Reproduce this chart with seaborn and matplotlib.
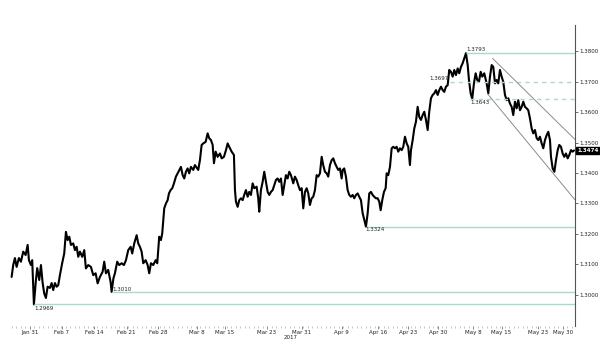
import numpy as np
import pandas as pd
import matplotlib
matplotlib.use('Agg')
import matplotlib.pyplot as plt
import seaborn as sns

# time axis in chart units (0 = Jan 31)
t = [-4.09, -3.73, -3.35, -2.97, -2.46, -2.01, -1.50, -0.96, -0.51, -0.22, 0.22, 0.51,
     0.89, 1.34, 1.63, 2.08, 2.46, 2.84, 3.19, 3.57, 3.95, 4.47, 4.85, 5.20,
     5.58, 5.96, 6.32, 6.70, 7.21, 7.66, 8.04, 8.42, 8.78, 9.16, 9.67, 10.05,
     10.43, 10.79, 11.17, 11.68, 12.13, 12.50, 13.02, 13.62, 14.14, 14.67, 15.12, 15.63,
     16.23, 16.59, 16.97, 17.48, 18.02, 18.24, 18.65, 18.98, 19.49, 19.94, 20.48, 20.99,
     21.44, 21.95, 22.49, 22.84, 23.29, 23.83, 24.18, 24.56, 24.94, 25.30, 25.84, 26.28,
     26.64, 27.02, 27.53, 28.07, 28.43, 28.65, 28.87, 29.25, 29.54, 29.77, 29.99, 30.37,
     30.75, 31.04, 31.42, 31.78, 32.16, 32.60, 32.98, 33.34, 33.72, 34.10, 34.46, 34.83,
     35.21, 35.57, 35.95, 36.47, 36.84,
     37.36, 37.58, 37.96, 38.34, 38.70, 39.23, 39.68, 40.03, 40.42, 40.80, 41.09,
     41.47, 41.91, 42.43, 42.81, 43.32, 43.77, 44.15, 44.50, 45.04, 45.55, 45.78, 46.00,
     46.38, 46.74, 47.12, 47.50, 47.85, 48.23, 48.61, 48.97, 49.35, 49.73, 50.09, 50.62,
     50.98, 51.20, 51.58, 51.96, 52.32, 52.70, 53.08, 53.44, 53.82, 54.20, 54.55, 54.93,
     55.31, 55.67, 56.05, 56.43, 56.79, 57.16, 57.54, 57.90, 58.28,
     58.80, 59.17, 59.55, 59.91, 60.29, 60.67, 61.03, 61.41, 61.79, 62.15, 62.52, 62.90,
     63.26, 63.64, 64.02, 64.38, 64.76, 65.14, 65.49, 65.87, 66.25, 66.61, 66.99, 67.37,
     67.73, 68.11, 68.49, 68.84, 69.22, 69.60, 69.83, 70.18, 70.56, 70.94, 71.30, 71.68,
     72.06, 72.42, 72.80, 73.18, 73.53, 73.91, 74.29, 74.65, 75.03, 75.41, 75.77, 76.15,
     76.52, 76.88, 77.26, 77.64, 78.00, 78.31, 78.67, 79.05, 79.43, 79.65, 80.01, 80.39,
     80.77, 81.13, 81.50, 81.88, 82.24, 82.62, 83.00, 83.36, 83.74, 84.12, 84.47, 84.85,
     85.08, 85.46, 85.82, 86.19, 86.57, 86.93, 87.31, 87.69, 88.05, 88.43, 88.81, 89.16,
     89.54, 89.92, 90.28, 90.66, 91.04, 91.40, 91.78, 92.16, 92.51, 92.89, 93.27, 93.63,
     94.01, 94.39, 94.75, 95.13, 95.51, 95.86, 96.24, 96.62, 96.98, 97.36, 97.74, 98.03,
     98.41, 98.76, 99.14, 99.52, 99.88, 100.26, 100.64, 101.00, 101.44, 101.98, 102.34, 102.72,
     103.10, 103.46, 103.84, 104.21, 104.57, 104.95, 105.33, 105.69, 106.07, 106.45, 106.81, 107.18,
     107.56, 107.92, 108.30, 108.68, 109.04, 109.42, 109.80, 110.16, 110.53, 110.91, 111.27, 111.65,
     112.03, 112.39, 112.77, 113.15, 113.51, 113.88, 114.26, 114.62, 115.00, 115.38, 115.74, 116.12,
     116.34, 116.72, 117.10, 117.46, 117.84, 118.19, 118.57, 118.95, 119.31, 119.69, 120.07, 120.43,
     120.81, 121.18, 121.48]

price = [1.3059, 1.3098, 1.3121, 1.3092, 1.3121, 1.3109, 1.3142, 1.3131, 1.3164, 1.3114, 1.3098, 1.3114,
         1.2969, 1.3049, 1.3088, 1.3049, 1.3098, 1.3039, 1.3005, 1.2990, 1.3027, 1.3023, 1.3039, 1.3016,
         1.3039, 1.3027, 1.3032, 1.3065, 1.3105, 1.3136, 1.3207, 1.3180, 1.3191, 1.3164, 1.3169, 1.3147,
         1.3158, 1.3125, 1.3142, 1.3125, 1.3147, 1.3087, 1.3098, 1.3092, 1.3065, 1.3071, 1.3038, 1.3059,
         1.3076, 1.3109, 1.3071, 1.3082, 1.3042, 1.3010, 1.3055, 1.3071, 1.3109, 1.3098, 1.3104, 1.3098,
         1.3114, 1.3147, 1.3158, 1.3136, 1.3169, 1.3196, 1.3169, 1.3158, 1.3142, 1.3104, 1.3114, 1.3098,
         1.3071, 1.3104, 1.3098, 1.3114, 1.3104, 1.3147, 1.3191, 1.3180, 1.3202, 1.3246, 1.3284, 1.3300,
         1.3311, 1.3333, 1.3344, 1.3350, 1.3366, 1.3388, 1.3399, 1.3410, 1.3420, 1.3393, 1.3382, 1.3404,
         1.3415, 1.3399, 1.3420, 1.3410, 1.3426,
         1.3415, 1.3410, 1.3442, 1.3492, 1.3497, 1.3502, 1.3530, 1.3514, 1.3508, 1.3492, 1.3432,
         1.3470, 1.3453, 1.3464, 1.3448, 1.3453, 1.3475, 1.3497, 1.3486, 1.3470, 1.3459, 1.3344, 1.3306,
         1.3289, 1.3311, 1.3317, 1.3311, 1.3328, 1.3344, 1.3322, 1.3338, 1.3328, 1.3366, 1.3350, 1.3355,
         1.3317, 1.3273, 1.3344, 1.3371, 1.3404, 1.3371, 1.3338, 1.3328, 1.3338, 1.3344, 1.3360, 1.3377,
         1.3382, 1.3371, 1.3382, 1.3328, 1.3360, 1.3393, 1.3382, 1.3404, 1.3393,
         1.3366, 1.3388, 1.3377, 1.3360, 1.3344, 1.3350, 1.3284, 1.3338, 1.3350, 1.3333, 1.3295, 1.3317,
         1.3322, 1.3344, 1.3393, 1.3388, 1.3399, 1.3453, 1.3426, 1.3404, 1.3399, 1.3388, 1.3426, 1.3442,
         1.3448, 1.3432, 1.3420, 1.3410, 1.3415, 1.3382, 1.3410, 1.3415, 1.3388, 1.3344, 1.3328, 1.3322,
         1.3328, 1.3317, 1.3328, 1.3333, 1.3322, 1.3311, 1.3268, 1.3246, 1.3224, 1.3268, 1.3333, 1.3338,
         1.3328, 1.3322, 1.3317, 1.3317, 1.3306, 1.3278, 1.3311, 1.3338, 1.3350, 1.3399, 1.3393, 1.3420,
         1.3481, 1.3486, 1.3481, 1.3486, 1.3470, 1.3481, 1.3475, 1.3486, 1.3519, 1.3497, 1.3486, 1.3426,
         1.3475, 1.3508, 1.3546, 1.3568, 1.3617, 1.3584, 1.3574, 1.3590, 1.3601, 1.3574, 1.3541, 1.3601,
         1.3645, 1.3656, 1.3661, 1.3672, 1.3656, 1.3672, 1.3683, 1.3672, 1.3666, 1.3683, 1.3688, 1.3738,
         1.3732, 1.3716, 1.3738, 1.3721, 1.3743, 1.3727, 1.3748, 1.3760, 1.3776, 1.3793, 1.3754, 1.3705,
         1.3661, 1.3643, 1.3694, 1.3727, 1.3705, 1.3699, 1.3732, 1.3716, 1.3727, 1.3694, 1.3661, 1.3716,
         1.3754, 1.3748, 1.3694, 1.3705, 1.3694, 1.3738, 1.3716, 1.3699, 1.3656, 1.3639, 1.3645, 1.3628,
         1.3617, 1.3590, 1.3634, 1.3612, 1.3639, 1.3606, 1.3617, 1.3634, 1.3617, 1.3612, 1.3606, 1.3579,
         1.3546, 1.3530, 1.3541, 1.3514, 1.3508, 1.3519, 1.3497, 1.3481, 1.3508, 1.3524, 1.3535, 1.3508,
         1.3453, 1.3415, 1.3404, 1.3442, 1.3475, 1.3492, 1.3486, 1.3464, 1.3453, 1.3464, 1.3448, 1.3459,
         1.3475, 1.3470, 1.3474]

# date labels and where they sit on the time axis
tick_pos = [0, 7.08, 14.36, 21.59, 28.65, 37.3, 43.5, 52.9, 60.7, 69.6, 77.7, 84.4, 91.1,
            98.9, 105.3, 113.4, 119.0]
tick_labels = ['Jan 31', 'Feb 7', 'Feb 14', 'Feb 21', 'Feb 28', 'Mar 8', 'Mar 15', 'Mar 23',
               'Mar 31', 'Apr 9', 'Apr 16', 'Apr 23', 'Apr 30', 'May 8', 'May 15', 'May 23', 'May 30']
year_label = '2017'

# support / resistance levels
levels = [1.3793, 1.3697, 1.3643, 1.3224, 1.3010, 1.2969]
level_start = [97.36, 93.8, 98.3, 75.0, 18.3, 0.9]
level_text = ['1.3793', '1.3697', '1.3643', '1.3324', '1.3010', '1.2969']
level_dashed = [False, True, True, False, False, False]

# falling channel: (t0, p0, t1, p1)
channel_upper = [103.3, 1.3776, 121.7, 1.3510]
channel_lower = [102.1, 1.3661, 121.7, 1.3312]

last_price = 1.3474


def make_chart():
    sns.set_style('white')
    plt.rcParams['font.family'] = ['DejaVu Sans']

    fig = plt.figure(figsize=(6.0, 3.54), dpi=100)
    ax = fig.add_axes([0.0133, 0.079, 0.945, 0.85])

    df = pd.DataFrame({'t': t, 'price': price})
    sns.lineplot(data=df, x='t', y='price', ax=ax, color='black',
                 linewidth=1.5, estimator=None, sort=False)

    xmax = 121.7
    ax.set_xlim(-4.9, xmax)
    ax.set_ylim(1.2898, 1.3885)

    green = '#a9dcc6'
    for lvl, x0, dashed in zip(levels, level_start, level_dashed):
        ax.hlines(lvl, x0, xmax, colors=green, linewidth=1.0,
                  linestyles=(0, (3, 3)) if dashed else 'solid')

    fs = 4.0
    lab = dict(fontsize=fs, color='#222222')
    # (dx, dy, ha, va) offsets in points for each level label
    placement = [(0, 1, 'left', 'bottom'), (-1, 1, 'right', 'bottom'),
                 (0, -1, 'left', 'top'), (0, -0.5, 'left', 'top'),
                 (0, 0, 'left', 'bottom'), (0, -1, 'left', 'top')]
    for lvl, x0, txt, (dx, dy, ha, va) in zip(levels, level_start, level_text, placement):
        ax.annotate(txt, (x0, lvl), xytext=(dx, dy), textcoords='offset points',
                    ha=ha, va=va, **lab)

    # channel lines
    for c in (channel_upper, channel_lower):
        ax.plot([c[0], c[2]], [c[1], c[3]], color='#8c8c8c', linewidth=0.7)

    # axes styling
    for s in ['top', 'left', 'bottom']:
        ax.spines[s].set_visible(False)
    ax.spines['right'].set_color('#555555')
    ax.spines['right'].set_linewidth(0.8)

    ax.yaxis.tick_right()
    yt = np.round(np.arange(1.30, 1.3801, 0.01), 2)
    ax.set_yticks(yt)
    ax.set_yticklabels(['%.4f' % v for v in yt])
    ax.tick_params(axis='y', right=True, length=2, width=0.6, color='#555555',
                   labelsize=fs, pad=1.5, labelcolor='#222222')

    ax.set_xticks(tick_pos)
    ax.set_xticklabels(tick_labels)
    ax.set_xticks(np.arange(-4, 122, 1.0), minor=True)
    ax.tick_params(axis='x', which='major', bottom=True, length=2.0, width=0.6,
                   color='#777777', labelsize=fs, pad=0.6, labelcolor='#222222')
    ax.tick_params(axis='x', which='minor', bottom=True, length=1.2, width=0.4,
                   color='#999999')
    ax.set_xlabel('')
    ax.set_ylabel('')
    ax.text(58.3, -0.03, year_label, transform=ax.get_xaxis_transform(),
            ha='center', va='top', fontsize=fs, color='#222222')

    # last price marker on the right axis
    ax.annotate('%.4f' % last_price, (1.0, last_price),
                xycoords=('axes fraction', 'data'), xytext=(1.5, 0),
                textcoords='offset points', ha='left', va='center',
                fontsize=fs, color='white', fontweight='bold',
                bbox=dict(boxstyle='square,pad=0.15', fc='black', ec='black'))

    ax.grid(False)
    fig.savefig('out.png', dpi=100, facecolor='white')


if __name__ == "__main__":
    assert len(t) == len(price)
    make_chart()
